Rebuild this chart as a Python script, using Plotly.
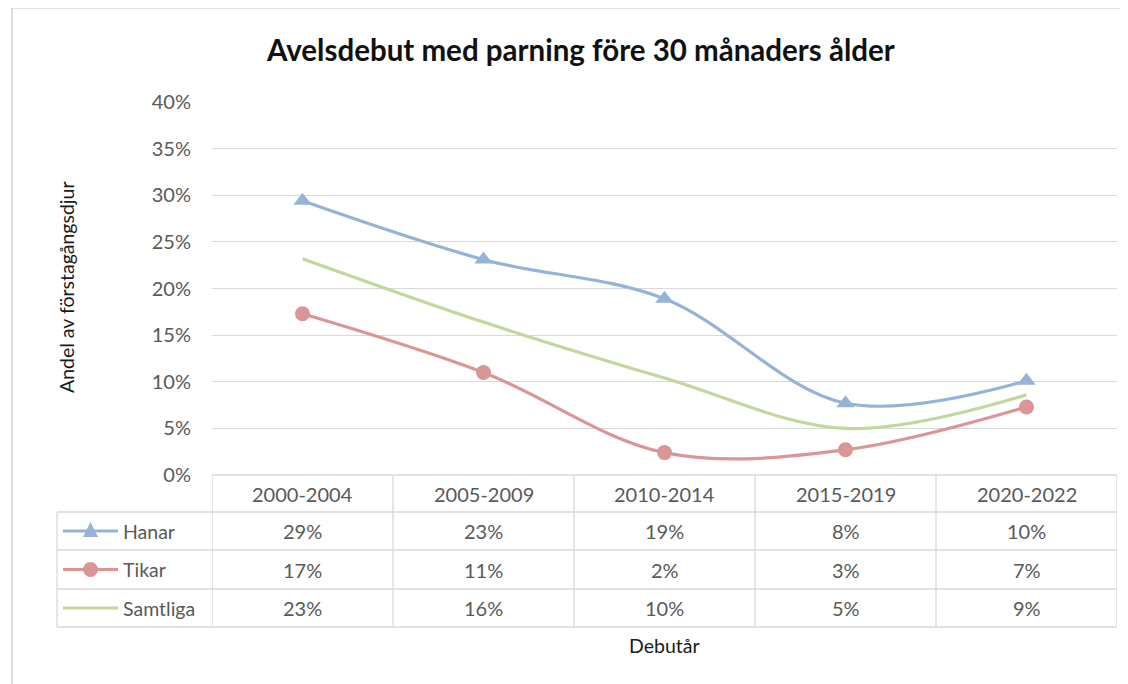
import plotly.graph_objects as go

categories = ["2000-2004", "2005-2009", "2010-2014", "2015-2019", "2020-2022"]
hanar = [0.294, 0.231, 0.189, 0.077, 0.101]
tikar = [0.173, 0.110, 0.024, 0.027, 0.073]
samtliga = [0.232, 0.164, 0.104, 0.050, 0.086]
series_names = ["Hanar", "Tikar", "Samtliga"]
y_ticks = [0, 0.05, 0.10, 0.15, 0.20, 0.25, 0.30, 0.35, 0.40]

OFF = 8  # page body margin
W, H = 1128 - OFF, 684 - OFF
FONT = "Lato"
GRID = "#d9d9d9"
TXT = "#595959"
COLORS = {"Hanar": "#95b3d7", "Tikar": "#d99694", "Samtliga": "#c3d69b"}
SYMBOLS = {"Hanar": "triangle-up", "Tikar": "circle", "Samtliga": None}
VALUES = {"Hanar": hanar, "Tikar": tikar, "Samtliga": samtliga}

# plot-area pixel bounds (screen pixels)
X0, X1, Y0, Y1 = 212, 1117, 102, 475
ROW_Y = [475, 512, 550, 589, 627]
TAB_LEFT = 57


def px(x):
    return (x - OFF) / W


def py(y):
    return 1 - (y - OFF) / H


fig = go.Figure()
for name in series_names:
    sym = SYMBOLS[name]
    fig.add_trace(go.Scatter(
        x=categories, y=VALUES[name], name=name,
        mode="lines+markers" if sym else "lines",
        line=dict(color=COLORS[name], width=3.2, shape="spline", smoothing=1.0),
        marker=dict(symbol=sym or "circle", size=15 if sym == "circle" else 16,
                    color=COLORS[name]),
        showlegend=False,
    ))

shapes = []
shapes.append(dict(type="rect", xref="paper", yref="paper",
                   x0=px(12), x1=px(1160), y0=py(8), y1=py(720),
                   line=dict(color="#c6c6c6", width=1.2)))
for i, yy in enumerate(ROW_Y):
    xs = X0 if i == 0 else TAB_LEFT
    shapes.append(dict(type="line", xref="paper", yref="paper",
                       x0=px(xs), x1=px(X1), y0=py(yy), y1=py(yy),
                       line=dict(color=GRID, width=1.3)))
for i in range(len(categories) + 1):
    shapes.append(dict(type="line", xref="x", yref="paper",
                       x0=i - 0.5, x1=i - 0.5, y0=py(ROW_Y[0]), y1=py(ROW_Y[-1]),
                       line=dict(color=GRID, width=1.3)))
shapes.append(dict(type="line", xref="paper", yref="paper",
                   x0=px(TAB_LEFT), x1=px(TAB_LEFT), y0=py(ROW_Y[1]), y1=py(ROW_Y[-1]),
                   line=dict(color=GRID, width=1.3)))

annotations = []
for i, c in enumerate(categories):
    annotations.append(dict(x=i, y=py((ROW_Y[0] + ROW_Y[1]) / 2), xref="x", yref="paper",
                            text=c, showarrow=False, xanchor="center", yanchor="middle",
                            font=dict(family=FONT, size=20, color=TXT)))
for r, name in enumerate(series_names):
    yc = (ROW_Y[r + 1] + ROW_Y[r + 2]) / 2
    for i, v in enumerate(VALUES[name]):
        annotations.append(dict(x=i, y=py(yc), xref="x", yref="paper",
                                text=f"{v:.0%}", showarrow=False,
                                xanchor="center", yanchor="middle",
                                font=dict(family=FONT, size=20, color=TXT)))
    annotations.append(dict(x=px(121), y=py(yc), xref="paper", yref="paper",
                            text=name, showarrow=False, xanchor="left", yanchor="middle",
                            font=dict(family=FONT, size=19.5, color=TXT)))
    shapes.append(dict(type="line", xref="paper", yref="paper",
                       x0=px(63), x1=px(118), y0=py(yc), y1=py(yc),
                       line=dict(color=COLORS[name], width=3.2)))
    cx = 90.5
    if SYMBOLS[name] == "triangle-up":
        path = (f"M {px(cx)},{py(yc - 9)} L {px(cx + 7.5)},{py(yc + 6)} "
                f"L {px(cx - 7.5)},{py(yc + 6)} Z")
        shapes.append(dict(type="path", xref="paper", yref="paper", path=path,
                           fillcolor=COLORS[name], line=dict(width=0)))
    elif SYMBOLS[name] == "circle":
        shapes.append(dict(type="circle", xref="paper", yref="paper",
                           x0=px(cx - 7.5), x1=px(cx + 7.5),
                           y0=py(yc - 7.5), y1=py(yc + 7.5),
                           fillcolor=COLORS[name], line=dict(width=0)))

annotations.append(dict(x=px(580), y=py(50), xref="paper", yref="paper",
                        text="<b>Avelsdebut med parning före 30 månaders ålder</b>",
                        showarrow=False, xanchor="center", yanchor="middle",
                        font=dict(family=FONT, size=29.5, color="#111111")))
annotations.append(dict(x=px(66), y=py(287), xref="paper", yref="paper",
                        text="Andel av förstagångsdjur", textangle=-90,
                        showarrow=False, xanchor="center", yanchor="middle",
                        font=dict(family=FONT, size=19.5, color="#1a1a1a")))
annotations.append(dict(x=px(664), y=py(645), xref="paper", yref="paper",
                        text="Debutår", showarrow=False, xanchor="center", yanchor="middle",
                        font=dict(family=FONT, size=19.5, color="#1a1a1a")))

fig.update_layout(
    width=W, height=H,
    margin=dict(l=0, r=0, t=0, b=0),
    paper_bgcolor="white", plot_bgcolor="white",
    xaxis=dict(domain=[px(X0), px(X1)], type="category", range=[-0.5, 4.5],
               showticklabels=False, showgrid=False, zeroline=False, showline=False,
               fixedrange=True),
    yaxis=dict(domain=[py(Y1), py(Y0)], range=[0, 0.40], tickvals=y_ticks,
               tickformat=".0%", showgrid=True, gridcolor=GRID, gridwidth=1.3,
               zeroline=False, showline=False, ticks="", ticklabelstandoff=20,
               tickfont=dict(family=FONT, size=20, color=TXT), automargin=False),
    shapes=shapes, annotations=annotations,
)

fig.write_html("out.html")
